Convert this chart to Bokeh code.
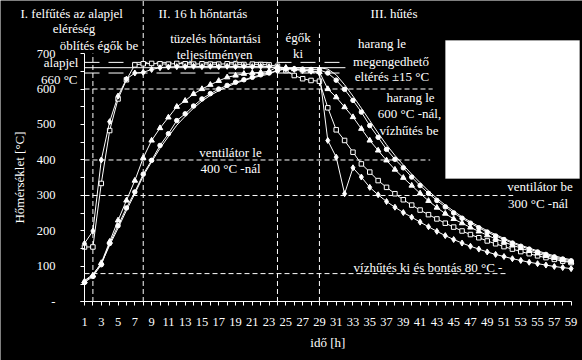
import math
from bokeh.plotting import figure
from bokeh.models import FixedTicker, Label, BoxAnnotation
from bokeh.embed import file_html
from bokeh.resources import INLINE

# ---------------- data ----------------
hours = list(range(1, 60))

# fast heating run, open squares
run_sq = [155, 155, 334, 483, 572, 626, 668, 671, 672, 671, 670, 672, 671, 670, 671, 670, 670, 671, 670, 669,
          670, 669, 668, 664, 652, 638, 629, 624, 622, 547, 485, 455, 422, 389, 366, 342, 323, 305, 288, 273,
          259, 246, 234, 222, 211, 200, 190, 181, 172, 164, 156, 149, 142, 136, 130, 125, 120, 115, 111]
# fast heating run, filled diamonds
run_dm = [165, 200, 400, 508, 580, 628, 645, 647, 655, 660, 662, 663, 663, 664, 663, 664, 663, 664, 663, 664,
          663, 664, 663, 660, 658, 655, 652, 650, 645, 455, 408, 305, 378, 352, 323, 302, 283, 267, 252, 239,
          225, 212, 199, 187, 176, 166, 157, 149, 141, 134, 128, 122, 117, 112, 108, 104, 100, 97, 94]
# slow heating run, triangles
run_tr = [58, 75, 110, 170, 230, 286, 342, 406, 455, 490, 520, 550, 567, 586, 600, 612, 623, 633, 638, 643,
          645, 647, 650, 662, 660, 656, 653, 651, 648, 600, 577, 549, 521, 488, 455, 427, 399, 373, 350, 328,
          306, 285, 266, 249, 234, 222, 210, 199, 188, 178, 169, 160, 152, 144, 137, 130, 124, 118, 112]
# slow heating run, circles
run_ci = [55, 72, 105, 165, 215, 265, 310, 360, 399, 441, 474, 511, 530, 552, 572, 587, 600, 610, 619, 626,
          633, 640, 645, 652, 656, 657, 656, 655, 654, 645, 625, 599, 568, 535, 497, 464, 430, 402, 378, 352,
          328, 306, 286, 268, 251, 236, 222, 209, 197, 186, 176, 166, 157, 149, 141, 134, 127, 121, 116]
# slow heating run, plain line
run_pl = [60, 78, 108, 160, 208, 258, 305, 355, 395, 433, 466, 498, 523, 546, 566, 582, 595, 606, 616, 624,
          631, 637, 642, 652, 658, 660, 660, 660, 660, 656, 640, 612, 580, 546, 511, 476, 443, 413, 386, 360,
          336, 313, 292, 273, 256, 240, 226, 213, 201, 190, 179, 169, 160, 152, 144, 137, 130, 124, 119]

setpoint = 660
tolerance = 15
ref_temps = [600, 400, 300, 80]
ref_ends = [42.5, 42.2, 52.1, 51.2]
phase_marks = [2, 8, 24, 29]
phase_tops = [700, 850, 850, 756]

x_ticks = list(range(1, 60, 2))
x_minor = list(range(2, 59, 2))
y_ticks = list(range(0, 701, 100))
y_minor = list(range(50, 700, 100))

FONT = "Liberation Serif"
W = "#ffffff"

p = figure(width=582, height=360, x_range=(-9.012, 60.356), y_range=(-164.8, 849.3),
           output_backend="svg", toolbar_location=None, title=None,
           min_border_left=0, min_border_right=0, min_border_top=0, min_border_bottom=0,
           background_fill_color="black", border_fill_color="black", outline_line_color=None)
p.grid.visible = False

for ax in (p.xaxis[0], p.yaxis[0]):
    ax.axis_line_color = W
    ax.major_tick_line_color = W
    ax.minor_tick_line_color = W
    ax.major_tick_in = 0
    ax.major_tick_out = 4
    ax.minor_tick_in = 0
    ax.minor_tick_out = 4
    ax.major_label_text_color = W
    ax.major_label_text_font = FONT
    ax.major_label_text_font_size = "12.5px"

p.xaxis.fixed_location = 0
p.yaxis.fixed_location = 1
p.xaxis.ticker = FixedTicker(ticks=x_ticks, minor_ticks=x_minor)
p.xaxis.bounds = (0.55, 59)
p.xaxis.major_label_standoff = 12
p.yaxis.ticker = FixedTicker(ticks=y_ticks, minor_ticks=y_minor)
p.yaxis.bounds = (0, 700)
p.yaxis.major_label_standoff = 25
p.yaxis.major_label_overrides = {0: "-"}

# reference lines
p.segment(x0=[1], y0=[setpoint], x1=[32.1], y1=[setpoint], line_color=W, line_width=1)
p.segment(x0=[1, 1], y0=[setpoint + tolerance, setpoint - tolerance], x1=[32.1, 32.1],
          y1=[setpoint + tolerance, setpoint - tolerance], line_color=W, line_width=1, line_dash="15 9")
p.segment(x0=[1] * len(ref_temps), y0=ref_temps, x1=ref_ends, y1=ref_temps,
          line_color=W, line_width=1, line_dash="5 3")
p.segment(x0=phase_marks, y0=[0] * len(phase_marks), x1=phase_marks, y1=phase_tops,
          line_color=W, line_width=1, line_dash="5 3")

# blank white box
p.add_layout(BoxAnnotation(left=44.03, right=60.0, top=736.6, bottom=347.9,
                           fill_color=W, fill_alpha=1, line_color=W))

series = [
    (run_sq, "square", 4.5, "black"),
    (run_dm, "diamond", 6, W),
    (run_tr, "triangle", 5.5, W),
    (run_ci, "circle", 4.5, W),
    (run_pl, None, 0, W),
]
for vals, mk, sz, fill in series:
    p.line(hours, vals, line_color=W, line_width=1)
    if mk:
        p.scatter(hours, vals, marker=mk, size=sz, fill_color=fill, line_color=W, line_width=1)


def txt(x, y, s, align="center", angle=0.0):
    p.add_layout(Label(x=x, y=y, text=s, text_color=W, text_font=FONT, text_font_size="13px",
                       text_align=align, text_baseline="middle", angle=angle))


txt(-6.63, 814, "I.  felfűtés az alapjel", "left")
txt(-0.25, 770, "eléréség")
txt(2.73, 722.5, "öblítés égők be")
txt(0.28, 674.6, "alapjel", "right")
txt(0.17, 626.8, "660 °C", "right")
txt(9.82, 814, "II.  16 h  hőntartás", "left")
txt(35.09, 814, "III.  hűtés", "left")
txt(16.61, 742, "tüzelés hőntartási")
txt(16.5, 697, "teljesítményen")
txt(26.45, 745, "égők")
txt(26.45, 700, "ki")
txt(36.46, 728, "harang le")
txt(37.53, 677.5, "megengedhető")
txt(37.65, 635, "eltérés ±15 °C")
txt(39.86, 576, "harang le")
txt(39.74, 531, "600 °C -nál,")
txt(39.68, 483, "vízhűtés be")
txt(18.4, 421, "ventilátor le")
txt(18.4, 376, "400 °C -nál")
txt(55.29, 325, "ventilátor be")
txt(55.05, 277.5, "300 °C -nál")
txt(41.94, 97, "vízhűtés ki és bontás 80 °C -")
txt(30.0, -114, "idő [h]")
txt(-6.75, 350.7, "Hőmérséklet [°C]", angle=math.pi / 2)

html = file_html(p, INLINE, title="chart")
html = html.replace("<body>", '<body style="background-color:#000000;">', 1)
open("out.html", "w").write(html)
